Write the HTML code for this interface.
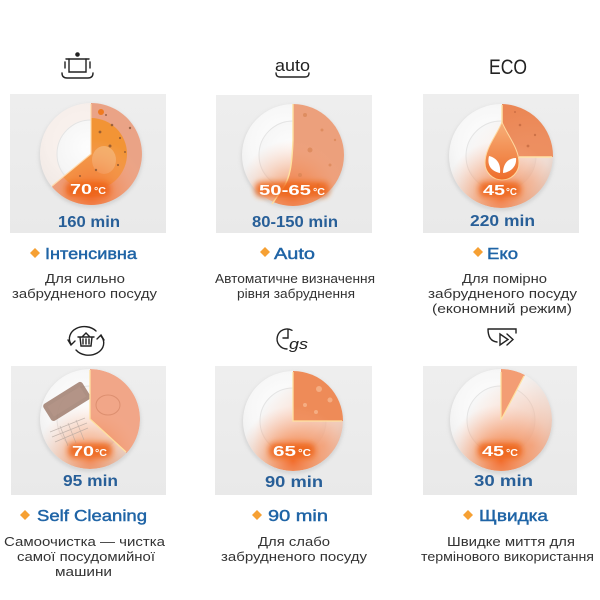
<!DOCTYPE html>
<html><head><meta charset="utf-8"><style>
html,body{margin:0;padding:0;background:#fff;}
svg{display:block;}
text{font-family:"Liberation Sans","DejaVu Sans",sans-serif;}
</style></head><body>
<svg width="600" height="600" viewBox="0 0 600 600" xmlns="http://www.w3.org/2000/svg">
<defs>
<radialGradient id="pg" cx="0.42" cy="0.38" r="0.65"><stop offset="0" stop-color="#ffffff"/><stop offset="0.55" stop-color="#f7f7f7"/><stop offset="0.85" stop-color="#ededed"/><stop offset="1" stop-color="#dcdcdc"/></radialGradient>
<radialGradient id="well" cx="0.45" cy="0.4" r="0.6"><stop offset="0" stop-color="#fdfdfd"/><stop offset="0.8" stop-color="#f5f5f5"/><stop offset="1" stop-color="#e6e6e6"/></radialGradient>
<radialGradient id="warmB" cx="0.5" cy="0.9" r="0.55"><stop offset="0" stop-color="#f26a2a" stop-opacity="0.95"/><stop offset="0.45" stop-color="#f4874d" stop-opacity="0.55"/><stop offset="1" stop-color="#f8b090" stop-opacity="0"/></radialGradient>
<radialGradient id="warmR" cx="0.8" cy="0.75" r="0.7"><stop offset="0" stop-color="#f29a70" stop-opacity="0.75"/><stop offset="0.6" stop-color="#f5b090" stop-opacity="0.35"/><stop offset="1" stop-color="#f5b090" stop-opacity="0"/></radialGradient>
<linearGradient id="box" x1="0" y1="0" x2="0" y2="1"><stop offset="0" stop-color="#eeeeee"/><stop offset="1" stop-color="#e9e9e9"/></linearGradient>
<linearGradient id="drop" x1="0" y1="0" x2="0" y2="1"><stop offset="0" stop-color="#f7b07a"/><stop offset="1" stop-color="#ee6e2c"/></linearGradient>
<filter id="b2" x="-20%" y="-20%" width="140%" height="140%"><feGaussianBlur stdDeviation="1.5"/></filter>
<filter id="b3" x="-50%" y="-80%" width="200%" height="260%"><feGaussianBlur stdDeviation="3"/></filter>
<clipPath id="c1"><path d="M91,154 L91,103 A51,51 0 1,1 51.9,186.8 Z"/></clipPath>
<clipPath id="cc1"><circle cx="91" cy="154" r="51"/></clipPath>
<clipPath id="cc2"><circle cx="293" cy="155" r="51"/></clipPath>
<clipPath id="cc3"><circle cx="501" cy="156" r="52"/></clipPath>
<clipPath id="cc4"><circle cx="90" cy="419" r="50"/></clipPath>
<clipPath id="cc5"><circle cx="293" cy="421" r="50"/></clipPath>
<clipPath id="cc6"><circle cx="501" cy="420" r="51"/></clipPath>
</defs>

<!-- boxes -->
<rect x="10" y="94" width="156" height="139" fill="url(#box)"/>
<rect x="216" y="95" width="156" height="138" fill="url(#box)"/>
<rect x="423" y="94" width="156" height="139" fill="url(#box)"/>
<rect x="11" y="366" width="155" height="129" fill="url(#box)"/>
<rect x="215" y="366" width="157" height="129" fill="url(#box)"/>
<rect x="423" y="366" width="154" height="129" fill="url(#box)"/>

<!-- ICONS -->
<g stroke="#222" stroke-width="1.4" fill="none" stroke-linecap="round">
  <circle cx="77.5" cy="54.5" r="1.6" fill="#222"/>
  <path d="M66,59 L89,59"/>
  <path d="M69,59 L69,72 L86,72 L86,59"/>
  <path d="M65,62 L65,68 M90,62 L90,68"/>
  <path d="M62,73 Q62,78 67,78 L88,78 Q93,78 93,73"/>
  <path d="M276,73 Q276,77 280,77 L305,77 Q309,77 309,73"/>
  <!-- basket -->
  <path d="M71,344 A15,12 0 0 1 96,331"/>
  <path d="M68,340 L71,345 L75,341"/>
  <path d="M101,336 A15,12 0 0 1 76,350"/>
  <path d="M104,340 L101,335 L97,339"/>
  <path d="M78,337 L94,337 M80,337 L81,346 L91,346 L92,337 M83,339 L83,344 M86,339 L86,344 M89,339 L89,344 M82,337 L86,333 L90,337"/>
  <!-- gs -->
  <path d="M292,330.3 A10,10 0 1,0 287,349"/>
  <path d="M288,330 L288,338 L283,338"/>
  <!-- play -->
  <path d="M488,329 L516,329 L516,333 M488,329 Q488,341 497,342"/>
  <path d="M500,334 L500,345 L508,339.5 Z"/>
  <path d="M507,334 L513,339.5 L507,345"/>
</g>
<text x="275" y="71" font-size="17" fill="#222" textLength="35" lengthAdjust="spacingAndGlyphs">auto</text>
<text x="489" y="74" font-size="21" fill="#222" textLength="38" lengthAdjust="spacingAndGlyphs">ECO</text>
<text x="289" y="349" font-size="15" font-style="italic" fill="#222" textLength="19" lengthAdjust="spacingAndGlyphs">gs</text>

<!-- PLATE 1 -->
<circle cx="91" cy="156" r="52" fill="#c8c8c8" filter="url(#b2)" opacity="0.6"/>
<circle cx="91" cy="154" r="51" fill="url(#pg)"/>
<circle cx="91" cy="154" r="51" fill="#f6e4dc" opacity="0.45"/>
<circle cx="91" cy="154" r="34" fill="url(#well)" stroke="#e4e4e4" stroke-width="1"/>
<path d="M91,154 L91,103 A51,51 0 1,1 51.9,186.8 Z" fill="#eaa386"/>
<g clip-path="url(#c1)">
  <circle cx="91" cy="154" r="36" fill="#f2922f" opacity="0.92"/>
  <ellipse cx="104" cy="160" rx="12" ry="14" fill="#f3c38a" opacity="0.6"/>
  <circle cx="91" cy="154" r="51" fill="url(#warmB)"/>
  <g fill="#7a4a30" opacity="0.7">
    <circle cx="112" cy="125" r="1.3"/><circle cx="120" cy="138" r="1.1"/><circle cx="100" cy="132" r="1.4"/><circle cx="125" cy="152" r="1"/><circle cx="110" cy="146" r="1.5"/><circle cx="96" cy="170" r="1.2"/><circle cx="118" cy="165" r="1.1"/><circle cx="80" cy="176" r="1"/><circle cx="106" cy="115" r="1"/><circle cx="130" cy="128" r="1.2"/>
  </g>
  <circle cx="101" cy="112" r="3" fill="#ef7a20"/>
</g>
<path d="M91,104 L91,154 L52,186" stroke="#ffd9a8" stroke-width="1.2" fill="none" opacity="0.9"/>
<rect x="66" y="182" width="44" height="15" rx="6" fill="#ee6418" filter="url(#b3)" opacity="0.9"/>
<text x="70" y="194" font-size="15" font-weight="bold" fill="#fff" textLength="22" lengthAdjust="spacingAndGlyphs">70</text>
<text x="94" y="194" font-size="10" font-weight="bold" fill="#fff" textLength="12" lengthAdjust="spacingAndGlyphs">°C</text>

<!-- PLATE 2 -->
<circle cx="293" cy="157" r="52" fill="#c8c8c8" filter="url(#b2)" opacity="0.6"/>
<circle cx="293" cy="155" r="51" fill="url(#pg)"/>
<circle cx="293" cy="155" r="34" fill="url(#well)" stroke="#e4e4e4" stroke-width="1"/>
<g clip-path="url(#cc2)">
  <path d="M293,100 L293,140 C292,165 290,178 283,188 L272,206 L350,212 L350,100 Z" fill="#eca07c"/>
  <circle cx="293" cy="155" r="51" fill="url(#warmB)" opacity="0.8"/>
  <g fill="#d98555" opacity="0.7">
    <circle cx="305" cy="115" r="2"/><circle cx="322" cy="130" r="1.5"/><circle cx="310" cy="150" r="2.5"/><circle cx="330" cy="165" r="1.5"/><circle cx="300" cy="175" r="2"/><circle cx="318" cy="185" r="1.5"/><circle cx="335" cy="140" r="1.2"/>
  </g>
</g>
<path d="M293,104 L293,140 C292,165 290,178 283,188 L272,204" stroke="#ffe1a0" stroke-width="1.4" fill="none"/>
<rect x="255" y="182" width="74" height="15" rx="6" fill="#ee6418" filter="url(#b3)" opacity="0.85"/>
<text x="259" y="195" font-size="15" font-weight="bold" fill="#fff" textLength="52" lengthAdjust="spacingAndGlyphs">50-65</text>
<text x="313" y="195" font-size="10" font-weight="bold" fill="#fff" textLength="12" lengthAdjust="spacingAndGlyphs">°C</text>

<!-- PLATE 3 -->
<circle cx="501" cy="158" r="53" fill="#c8c8c8" filter="url(#b2)" opacity="0.6"/>
<circle cx="501" cy="156" r="52" fill="url(#pg)"/>
<circle cx="501" cy="156" r="35" fill="url(#well)" stroke="#e4e4e4" stroke-width="1"/>
<g clip-path="url(#cc3)">
  <path d="M502,157 L502,100 L560,100 L560,157 Z" fill="#eb8755"/>
  <circle cx="501" cy="156" r="52" fill="url(#warmB)"/>
  <circle cx="501" cy="156" r="52" fill="url(#warmR)" opacity="0.5"/>
  <g fill="#b8603a" opacity="0.6"><circle cx="520" cy="125" r="1.3"/><circle cx="535" cy="135" r="1.2"/><circle cx="528" cy="146" r="1.4"/><circle cx="515" cy="112" r="1"/></g>
</g>
<path d="M502,105 L502,123 M519,157 L552,157" stroke="#ffe3a8" stroke-width="1.5"/>
<path d="M502,122 C497,135 485,148 485,163 A17,17 0 0,0 519,163 C519,148 507,135 502,122 Z" fill="url(#drop)" stroke="#ffd9a0" stroke-width="1"/>
<path d="M500,173 C490,171 487,164 489,156 C497,158 501,164 500,173 Z" fill="#fff"/>
<path d="M503,173 C503,164 508,158 516,158 C517,166 511,172 503,173 Z" fill="#fff"/>
<rect x="479" y="182" width="42" height="15" rx="6" fill="#ee6418" filter="url(#b3)" opacity="0.85"/>
<text x="483" y="195" font-size="15" font-weight="bold" fill="#fff" textLength="22" lengthAdjust="spacingAndGlyphs">45</text>
<text x="506" y="195" font-size="10" font-weight="bold" fill="#fff" textLength="11" lengthAdjust="spacingAndGlyphs">°C</text>

<!-- PLATE 4 -->
<circle cx="90" cy="421" r="51" fill="#c8c8c8" filter="url(#b2)" opacity="0.6"/>
<circle cx="90" cy="419" r="50" fill="url(#pg)"/>
<circle cx="90" cy="419" r="33" fill="url(#well)" stroke="#e4e4e4" stroke-width="1"/>
<g clip-path="url(#cc4)">
  <path d="M90,419 L90,369 A50,50 0 0,1 126.6,453.1 Z" fill="#f1a688"/>
  <circle cx="90" cy="419" r="50" fill="url(#warmB)" opacity="0.8"/>
  <g transform="rotate(-32 66 402)"><rect x="44" y="392" width="46" height="20" rx="3" fill="#9a7565" opacity="0.8"/><rect x="48" y="396" width="38" height="12" fill="#b8978a" opacity="0.6"/></g>
  <g stroke="#b0a49c" stroke-width="0.7" fill="none" opacity="0.7"><path d="M50,432 L85,418 M52,437 L87,423 M55,442 L88,428 M60,426 L68,446 M68,423 L76,443 M76,420 L84,440"/></g>
  <ellipse cx="108" cy="405" rx="12" ry="10" fill="none" stroke="#d08060" stroke-width="1" opacity="0.6"/>
</g>
<path d="M90,370 L90,419 L126,452" stroke="#ffe1a0" stroke-width="1.3" fill="none"/>
<rect x="68" y="443" width="44" height="15" rx="6" fill="#ee6418" filter="url(#b3)" opacity="0.85"/>
<text x="72" y="456" font-size="15" font-weight="bold" fill="#fff" textLength="22" lengthAdjust="spacingAndGlyphs">70</text>
<text x="95" y="456" font-size="10" font-weight="bold" fill="#fff" textLength="12" lengthAdjust="spacingAndGlyphs">°C</text>

<!-- PLATE 5 -->
<circle cx="293" cy="423" r="51" fill="#c8c8c8" filter="url(#b2)" opacity="0.6"/>
<circle cx="293" cy="421" r="50" fill="url(#pg)"/>
<circle cx="293" cy="421" r="33" fill="url(#well)" stroke="#e4e4e4" stroke-width="1"/>
<g clip-path="url(#cc5)">
  <circle cx="293" cy="421" r="50" fill="url(#warmR)"/>
  <path d="M293,421 L293,365 L350,365 L350,421 Z" fill="#ee8b58"/>
  <circle cx="293" cy="421" r="50" fill="url(#warmB)"/>
  <g fill="#f7b68e" opacity="0.8"><circle cx="319" cy="389" r="3"/><circle cx="330" cy="400" r="2.5"/><circle cx="305" cy="405" r="2"/><circle cx="316" cy="412" r="2"/></g>
</g>
<path d="M293,372 L293,421 L342,421" stroke="#ffe1a0" stroke-width="1.3" fill="none"/>
<rect x="269" y="443" width="46" height="15" rx="6" fill="#ee6418" filter="url(#b3)" opacity="0.85"/>
<text x="273" y="456" font-size="15" font-weight="bold" fill="#fff" textLength="23" lengthAdjust="spacingAndGlyphs">65</text>
<text x="298" y="456" font-size="10" font-weight="bold" fill="#fff" textLength="13" lengthAdjust="spacingAndGlyphs">°C</text>

<!-- PLATE 6 -->
<circle cx="501" cy="422" r="52" fill="#c8c8c8" filter="url(#b2)" opacity="0.6"/>
<circle cx="501" cy="420" r="51" fill="url(#pg)"/>
<circle cx="501" cy="420" r="34" fill="url(#well)" stroke="#e4e4e4" stroke-width="1"/>
<g clip-path="url(#cc6)">
  <circle cx="501" cy="420" r="51" fill="url(#warmR)"/>
  <path d="M501,420 L501,369 A51,51 0 0,1 524.9,375 Z" fill="#f39d74"/>
  <circle cx="501" cy="420" r="51" fill="url(#warmB)"/>
</g>
<path d="M501,372 L501,420 L524,376" stroke="#ffe1a0" stroke-width="1.2" fill="none"/>
<rect x="478" y="443" width="44" height="15" rx="6" fill="#ee6418" filter="url(#b3)" opacity="0.85"/>
<text x="482" y="456" font-size="15" font-weight="bold" fill="#fff" textLength="22" lengthAdjust="spacingAndGlyphs">45</text>
<text x="506" y="456" font-size="10" font-weight="bold" fill="#fff" textLength="12" lengthAdjust="spacingAndGlyphs">°C</text>

<!-- MIN LABELS -->
<g font-size="16" font-weight="bold" fill="#285f98">
<text x="58" y="227" textLength="62" lengthAdjust="spacingAndGlyphs">160 min</text>
<text x="252" y="227" textLength="86" lengthAdjust="spacingAndGlyphs">80-150 min</text>
<text x="470" y="226" textLength="65" lengthAdjust="spacingAndGlyphs">220 min</text>
<text x="63" y="486" textLength="55" lengthAdjust="spacingAndGlyphs">95 min</text>
<text x="265" y="487" textLength="58" lengthAdjust="spacingAndGlyphs">90 min</text>
<text x="474" y="486" textLength="59" lengthAdjust="spacingAndGlyphs">30 min</text>
</g>

<!-- DIAMONDS -->
<g fill="#f6a033">
<path d="M35,248 L40,253 L35,258 L30,253 Z"/>
<path d="M265,247 L270,252 L265,257 L260,252 Z"/>
<path d="M478,247 L483,252 L478,257 L473,252 Z"/>
<path d="M25,510 L30,515 L25,520 L20,515 Z"/>
<path d="M257,510 L262,515 L257,520 L252,515 Z"/>
<path d="M468,510 L473,515 L468,520 L463,515 Z"/>
</g>

<!-- TITLES -->
<g font-size="16" fill="#1f64a6" stroke="#1f64a6" stroke-width="0.45">
<text x="45" y="259" textLength="92" lengthAdjust="spacingAndGlyphs">Інтенсивна</text>
<text x="274" y="259" textLength="41" lengthAdjust="spacingAndGlyphs">Auto</text>
<text x="487" y="259" textLength="31" lengthAdjust="spacingAndGlyphs">Еко</text>
<text x="37" y="521" textLength="110" lengthAdjust="spacingAndGlyphs">Self Cleaning</text>
<text x="268" y="521" textLength="60" lengthAdjust="spacingAndGlyphs">90 min</text>
<text x="479" y="521" textLength="69" lengthAdjust="spacingAndGlyphs">Щвидка</text>
</g>

<!-- DESCRIPTIONS -->
<g font-size="13" fill="#333">
<text x="45" y="283" textLength="80" lengthAdjust="spacingAndGlyphs">Для сильно</text>
<text x="12" y="298" textLength="145" lengthAdjust="spacingAndGlyphs">забрудненого посуду</text>
<text x="215" y="283" textLength="160" lengthAdjust="spacingAndGlyphs">Автоматичне визначення</text>
<text x="237" y="298" textLength="118" lengthAdjust="spacingAndGlyphs">рівня забруднення</text>
<text x="462" y="283" textLength="85" lengthAdjust="spacingAndGlyphs">Для помірно</text>
<text x="428" y="298" textLength="149" lengthAdjust="spacingAndGlyphs">забрудненого посуду</text>
<text x="432" y="313" textLength="140" lengthAdjust="spacingAndGlyphs">(економний режим)</text>
<text x="4" y="546" textLength="161" lengthAdjust="spacingAndGlyphs">Самоочистка — чистка</text>
<text x="17" y="561" textLength="138" lengthAdjust="spacingAndGlyphs">самої посудомийної</text>
<text x="55" y="576" textLength="57" lengthAdjust="spacingAndGlyphs">машини</text>
<text x="258" y="546" textLength="72" lengthAdjust="spacingAndGlyphs">Для слабо</text>
<text x="221" y="561" textLength="146" lengthAdjust="spacingAndGlyphs">забрудненого посуду</text>
<text x="447" y="546" textLength="128" lengthAdjust="spacingAndGlyphs">Швидке миття для</text>
<text x="421" y="561" textLength="173" lengthAdjust="spacingAndGlyphs">термінового використання</text>
</g>
</svg>
</body></html>
